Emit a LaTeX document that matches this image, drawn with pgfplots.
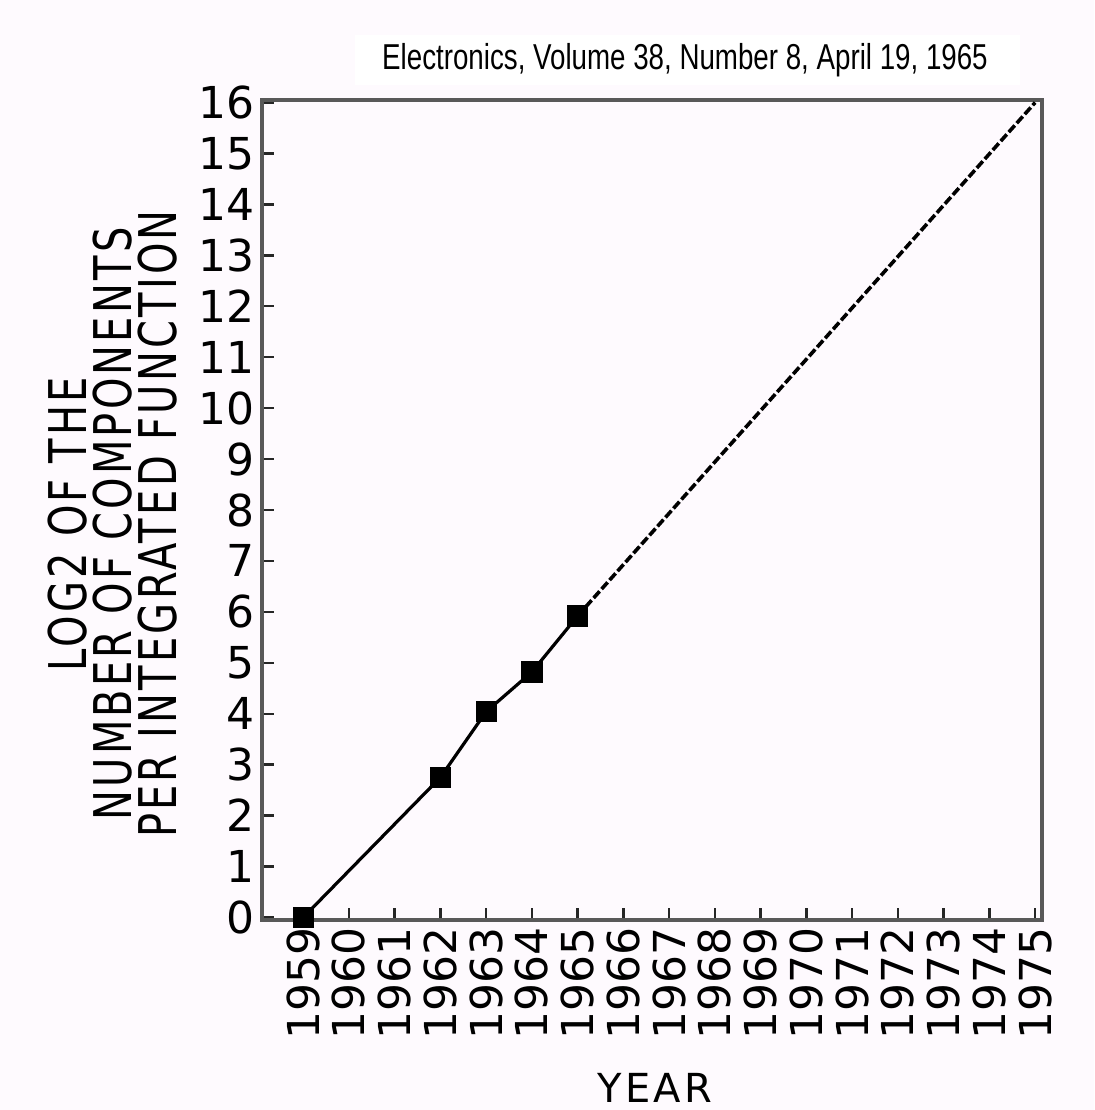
\documentclass[border=0pt]{standalone}
\usepackage{pgfplots}
\pgfplotsset{compat=1.18}
\usepackage{fontspec}
\setmainfont{DejaVu Sans}
\newfontfamily\titlefont{Liberation Sans}
\newfontfamily\labfont[LetterSpace=8]{DejaVu Sans}
\definecolor{bg}{RGB}{254,250,254}
\begin{document}
\begin{tikzpicture}
\fill[bg] (-131pt,-95pt) rectangle (416pt,460pt);
\fill[white] (46.5pt,417.5pt) rectangle (379pt,442.5pt);
\node[inner sep=0pt] at (211.5pt,430pt) {\scalebox{0.77}[1]{\titlefont\fontsize{18}{18}\selectfont Electronics, Volume 38, Number 8, April 19, 1965}};
\begin{axis}[
  scale only axis, width=390pt, height=410pt,
  xmin=1958.1, xmax=1975.15, ymin=-0.05, ymax=16.05,
  clip=false,
  xtick={1959,...,1975},
  xticklabels={1959,1960,1961,1962,1963,1964,1965,1966,1967,1968,1969,1970,1971,1972,1973,1974,1975},
  ytick={0,...,16},
  yticklabels={0,1,2,3,4,5,6,7,8,9,10,11,12,13,14,15,16},
  xtick pos=bottom, ytick pos=left,
  tick align=inside, major tick length=6pt,
  tick style={line width=1.2pt, black!85},
  axis line style={line width=2pt, black!65},
  xticklabel style={rotate=90, anchor=east, font=\fontsize{22}{22}\selectfont},
  yticklabel style={font=\fontsize{22}{22}\selectfont},
]
\addplot[black, line width=1.6pt, mark=square*, mark size=4.5pt] coordinates {(1959,0) (1962,2.75) (1963,4.04) (1964,4.82) (1965,5.92)};
\addplot[black, line width=1.8pt, dash pattern=on 4.5pt off 1.5pt] coordinates {(1965,5.92) (1975,16)};
\end{axis}
\node[rotate=90, align=center, inner sep=0pt, font=\labfont\fontsize{20}{22.5}\selectfont] at (-74.5pt,198pt) {\scalebox{1}[1.3]{LOG2 OF THE}\\\scalebox{1}[1.3]{NUMBER OF COMPONENTS}\\\scalebox{1}[1.3]{PER INTEGRATED FUNCTION}};
\node[inner sep=0pt, font=\labfont\fontsize{20}{20}\selectfont] at (196.5pt,-84pt) {YEAR};
\end{tikzpicture}
\end{document}
